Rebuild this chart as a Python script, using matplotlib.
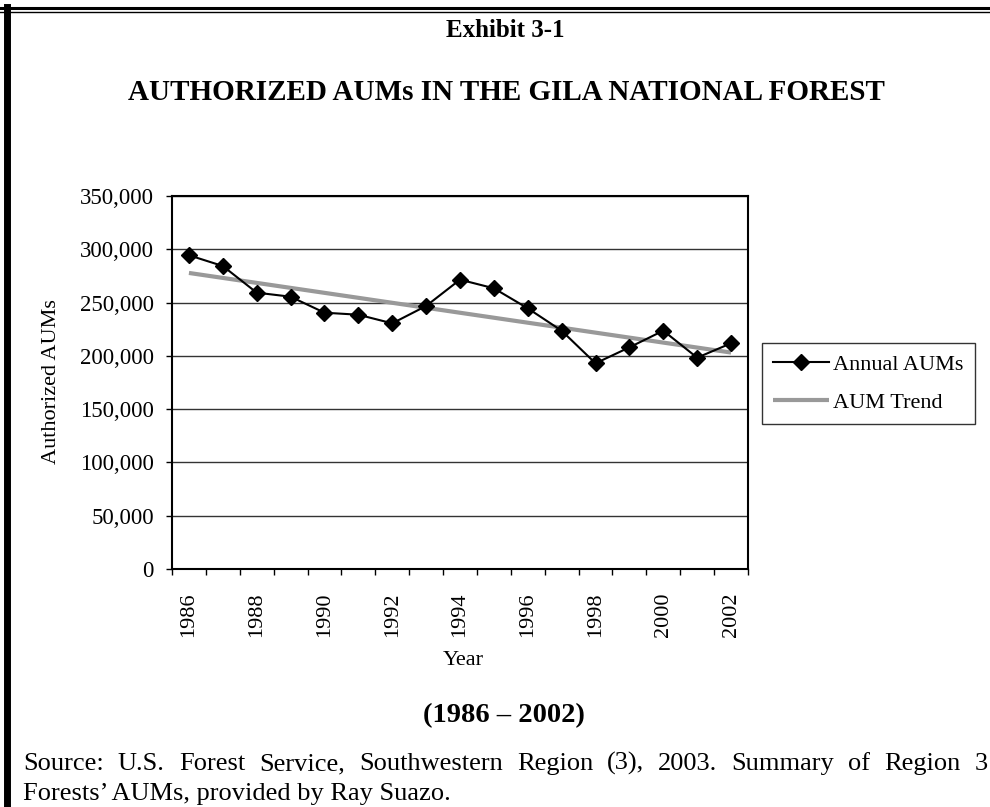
import numpy as np
import matplotlib
matplotlib.use('Agg')
import matplotlib.pyplot as plt
from matplotlib.lines import Line2D
from matplotlib.ticker import FuncFormatter

plt.rcParams['font.family'] = ['Liberation Serif', 'DejaVu Serif']

years = [1986, 1987, 1988, 1989, 1990, 1991, 1992, 1993, 1994,
         1995, 1996, 1997, 1998, 1999, 2000, 2001, 2002]
annual_aums = [294400, 284300, 259300, 255500, 240500, 238600, 230500, 246800, 271500,
               263400, 244600, 223600, 193000, 208000, 223600, 198300, 211800]
y_ticks = [0, 50000, 100000, 150000, 200000, 250000, 300000, 350000]

W, H = 990, 807
fig = plt.figure(figsize=(W / 100, H / 100), dpi=100)

def fx(x):
    return x / W

def fy(y):
    return 1 - y / H

# plot area in pixel coords: 172..748 x 196..569
ax = fig.add_axes([fx(172), fy(569), (748 - 172) / W, (569 - 196) / H])

xi = np.arange(len(years))
# linear trend like Excel's trendline
coef = np.polyfit(xi, annual_aums, 1)
trend = np.polyval(coef, xi)

ax.plot(xi, trend, color='#999999', lw=3.0, label='AUM Trend', zorder=3, solid_capstyle='butt')
ax.plot(xi, annual_aums, color='black', lw=1.5, marker='D', markersize=8.5,
        label='Annual AUMs', zorder=4)

ax.set_xlim(-0.5, len(years) - 0.5)
ax.set_ylim(0, 350000)
ax.set_yticks(y_ticks)
ax.yaxis.set_major_formatter(FuncFormatter(lambda v, p: f'{int(v):,}'))
ax.grid(axis='y', color='#333333', lw=1.0)
ax.set_axisbelow(True)

ax.set_xticks(xi[::2])
ax.set_xticklabels([str(y) for y in years[::2]], rotation=90, va='top')
ax.set_xticks(np.arange(-0.5, len(years), 1.0), minor=True)
ax.tick_params(axis='x', which='major', length=0, pad=17, labelsize=16)
ax.tick_params(axis='x', which='minor', length=4, width=1.0, direction='out')
ax.tick_params(axis='y', length=4, width=1.0, pad=9, labelsize=16.5)

for s in ax.spines.values():
    s.set_linewidth(1.5)
    s.set_color('black')

# axis titles
fig.text(fx(52), fy(382), 'Authorized AUMs', rotation=90, ha='center', va='center', fontsize=16)
fig.text(fx(463), fy(665), 'Year', ha='center', va='baseline', fontsize=16)

# legend outside the plot
handles, labels = ax.get_legend_handles_labels()
leg = fig.legend(handles[::-1], labels[::-1], loc='upper left',
                 bbox_to_anchor=(fx(762), fy(343)), fontsize=16,
                 frameon=True, fancybox=False, edgecolor='#333333', framealpha=1,
                 handlelength=2.5, handletextpad=0.2, borderpad=0.5, labelspacing=0.8,
                 borderaxespad=0)
leg.get_frame().set_linewidth(1.0)

# headings
fig.text(fx(505), fy(37), 'Exhibit 3-1', ha='center', va='baseline', fontsize=18, fontweight='bold')
fig.text(fx(506), fy(100), 'AUTHORIZED AUMs IN THE GILA NATIONAL FOREST', ha='center',
         va='baseline', fontsize=21, fontweight='bold')
fig.text(fx(504), fy(722), '(1986 \u2013 2002)', ha='center', va='baseline', fontsize=20.5,
         fontweight='bold')

# source note, first line justified between the margins
line1 = 'Source: U.S. Forest Service, Southwestern Region (3), 2003. Summary of Region 3'
line2 = 'Forests\u2019 AUMs, provided by Ray Suazo.'
src_size = 19
renderer = fig.canvas.get_renderer()
words = line1.split()
arts = [fig.text(0, fy(770), w, ha='left', va='baseline', fontsize=src_size) for w in words]
widths = [a.get_window_extent(renderer).width for a in arts]
left, right = 23, 988
gap = (right - left - sum(widths)) / (len(words) - 1)
xpos = left
for a, w in zip(arts, widths):
    a.set_x(fx(xpos))
    xpos += w + gap
fig.text(fx(23), fy(800), line2, ha='left', va='baseline', fontsize=src_size)

# page frame: double rule on top, heavy rule on the left
fig.add_artist(Line2D([0, 1], [fy(7.5), fy(7.5)], transform=fig.transFigure, color='black', lw=2.2))
fig.add_artist(Line2D([0, 1], [fy(11.5), fy(11.5)], transform=fig.transFigure, color='black', lw=1.0))
fig.add_artist(Line2D([fx(7), fx(7)], [fy(6.5), 0], transform=fig.transFigure, color='black', lw=5))

fig.savefig('out.png', dpi=100)
